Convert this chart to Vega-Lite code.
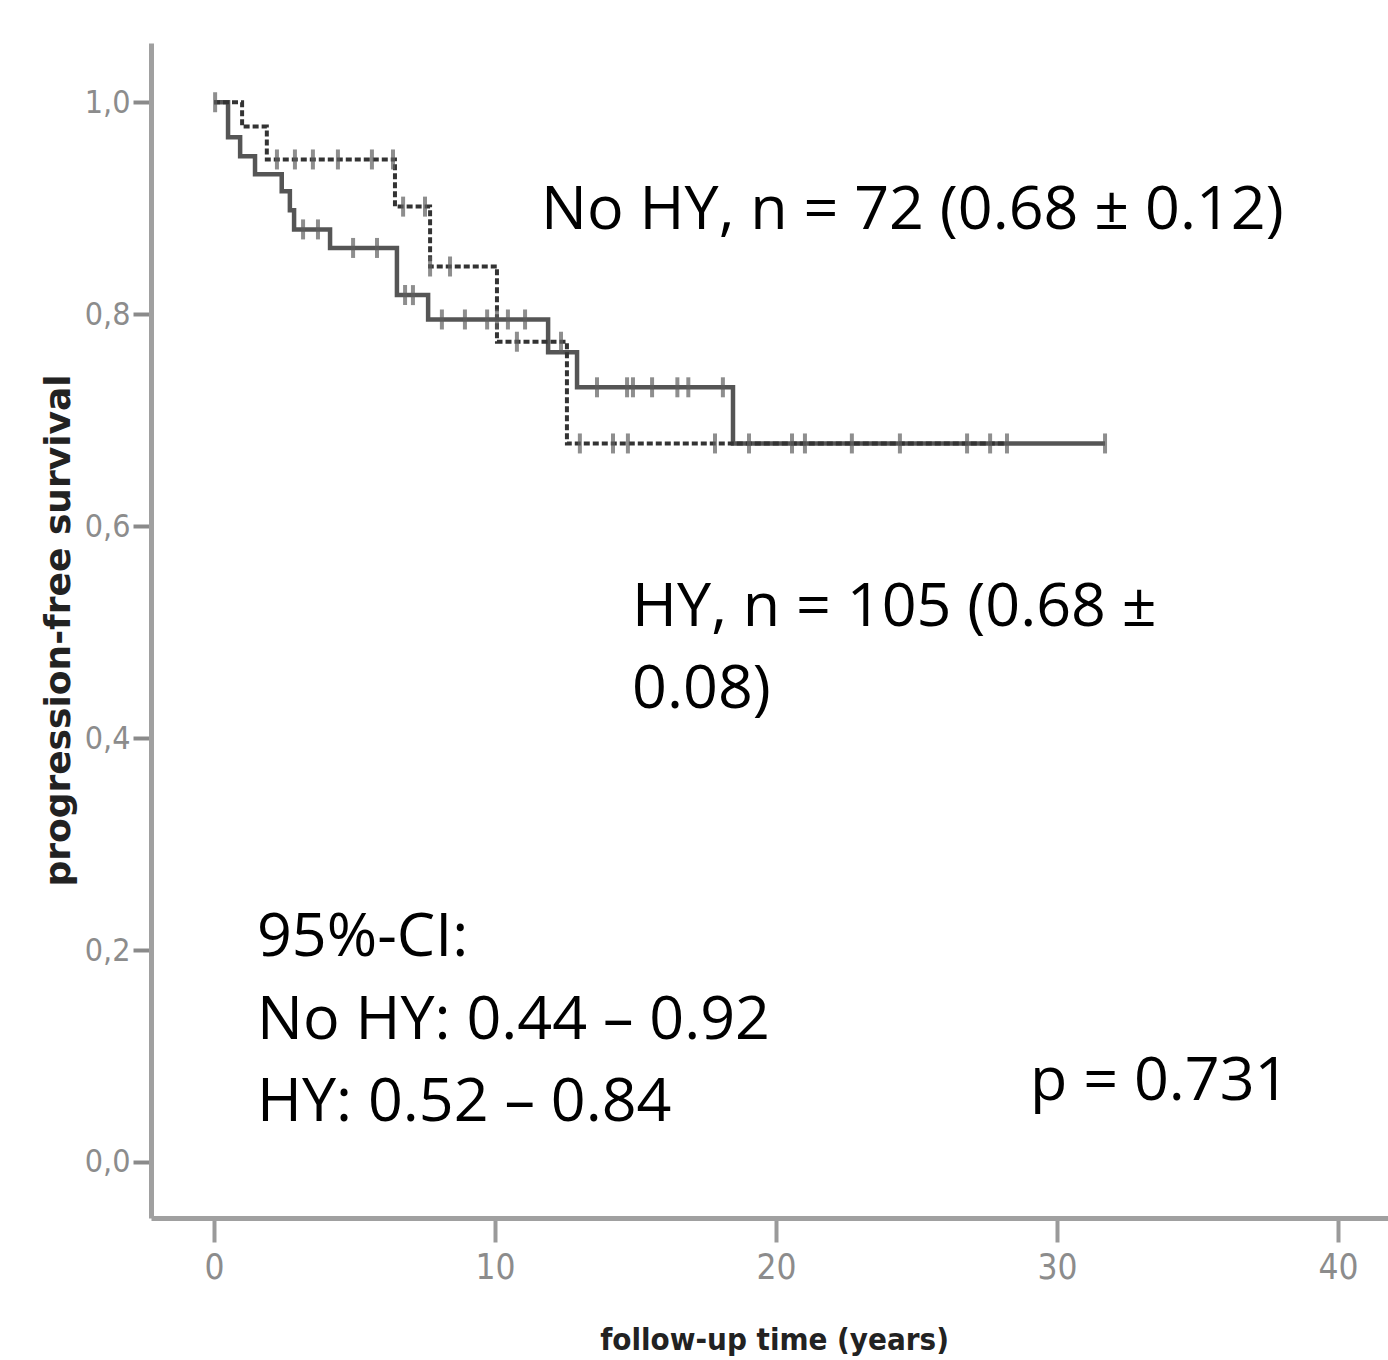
{
  "$schema": "https://vega.github.io/schema/vega-lite/v6.json",
  "width": 1237,
  "height": 1175,
  "autosize": "none",
  "padding": {"left": 151, "top": 43, "right": 0, "bottom": 142},
  "background": "white",
  "config": {"view": {"stroke": null}},
  "datasets": {
    "curves": [
      {"group": "HY", "t": 0, "s": 1.0},
      {"group": "HY", "t": 0.5, "s": 0.967},
      {"group": "HY", "t": 0.93, "s": 0.949},
      {"group": "HY", "t": 1.46, "s": 0.932},
      {"group": "HY", "t": 2.41, "s": 0.916},
      {"group": "HY", "t": 2.7, "s": 0.898},
      {"group": "HY", "t": 2.85, "s": 0.88},
      {"group": "HY", "t": 4.13, "s": 0.8625},
      {"group": "HY", "t": 6.51, "s": 0.818},
      {"group": "HY", "t": 7.62, "s": 0.795},
      {"group": "HY", "t": 11.89, "s": 0.764},
      {"group": "HY", "t": 12.92, "s": 0.731},
      {"group": "HY", "t": 18.47, "s": 0.678},
      {"group": "HY", "t": 31.71, "s": 0.678},
      {"group": "No HY", "t": 0, "s": 1.0},
      {"group": "No HY", "t": 1.0, "s": 0.977},
      {"group": "No HY", "t": 1.88, "s": 0.946},
      {"group": "No HY", "t": 6.44, "s": 0.9015},
      {"group": "No HY", "t": 7.69, "s": 0.845},
      {"group": "No HY", "t": 10.07, "s": 0.774},
      {"group": "No HY", "t": 12.56, "s": 0.678},
      {"group": "No HY", "t": 28.22, "s": 0.678}
    ],
    "censored": [
      {"group": "HY", "t": 0.04, "s": 1.0},
      {"group": "HY", "t": 3.17, "s": 0.88},
      {"group": "HY", "t": 3.7, "s": 0.88},
      {"group": "HY", "t": 4.95, "s": 0.8625},
      {"group": "HY", "t": 5.8, "s": 0.8625},
      {"group": "HY", "t": 6.8, "s": 0.818},
      {"group": "HY", "t": 7.08, "s": 0.818},
      {"group": "HY", "t": 8.11, "s": 0.795},
      {"group": "HY", "t": 8.93, "s": 0.795},
      {"group": "HY", "t": 9.72, "s": 0.795},
      {"group": "HY", "t": 10.07, "s": 0.795},
      {"group": "HY", "t": 10.46, "s": 0.795},
      {"group": "HY", "t": 11.07, "s": 0.795},
      {"group": "HY", "t": 13.63, "s": 0.731},
      {"group": "HY", "t": 14.7, "s": 0.731},
      {"group": "HY", "t": 14.91, "s": 0.731},
      {"group": "HY", "t": 15.59, "s": 0.731},
      {"group": "HY", "t": 16.49, "s": 0.731},
      {"group": "HY", "t": 16.88, "s": 0.731},
      {"group": "HY", "t": 18.11, "s": 0.731},
      {"group": "HY", "t": 20.57, "s": 0.678},
      {"group": "HY", "t": 21.03, "s": 0.678},
      {"group": "HY", "t": 24.41, "s": 0.678},
      {"group": "HY", "t": 27.62, "s": 0.678},
      {"group": "HY", "t": 31.71, "s": 0.678},
      {"group": "No HY", "t": 2.24, "s": 0.946},
      {"group": "No HY", "t": 2.88, "s": 0.946},
      {"group": "No HY", "t": 3.52, "s": 0.946},
      {"group": "No HY", "t": 4.41, "s": 0.946},
      {"group": "No HY", "t": 5.62, "s": 0.946},
      {"group": "No HY", "t": 6.37, "s": 0.946},
      {"group": "No HY", "t": 6.73, "s": 0.9015},
      {"group": "No HY", "t": 7.51, "s": 0.9015},
      {"group": "No HY", "t": 7.69, "s": 0.845},
      {"group": "No HY", "t": 8.4, "s": 0.845},
      {"group": "No HY", "t": 10.78, "s": 0.774},
      {"group": "No HY", "t": 12.35, "s": 0.774},
      {"group": "No HY", "t": 13.02, "s": 0.678},
      {"group": "No HY", "t": 14.2, "s": 0.678},
      {"group": "No HY", "t": 14.73, "s": 0.678},
      {"group": "No HY", "t": 17.83, "s": 0.678},
      {"group": "No HY", "t": 19.04, "s": 0.678},
      {"group": "No HY", "t": 22.7, "s": 0.678},
      {"group": "No HY", "t": 26.8, "s": 0.678},
      {"group": "No HY", "t": 28.22, "s": 0.678}
    ],
    "notes": [
      {"t": 11.64, "s": 0.88, "label": "No HY, n = 72 (0.68 ± 0.12)"},
      {"t": 14.88, "s": 0.506, "label": "HY, n = 105 (0.68 ±"},
      {"t": 14.88, "s": 0.428, "label": "0.08)"},
      {"t": 1.53, "s": 0.194, "label": "95%-CI:"},
      {"t": 1.53, "s": 0.116, "label": "No HY: 0.44 – 0.92"},
      {"t": 1.53, "s": 0.0384, "label": "HY: 0.52 – 0.84"},
      {"t": 29.04, "s": 0.058, "label": "p = 0.731"}
    ]
  },
  "encoding": {
    "x": {
      "field": "t",
      "type": "quantitative",
      "scale": {"domain": [-2.242, 41.78], "nice": false, "zero": false},
      "axis": {
        "values": [0, 10, 20, 30, 40],
        "grid": false,
        "domainColor": "#a0a0a0",
        "domainWidth": 5,
        "tickColor": "#9a9a9a",
        "tickWidth": 4,
        "tickSize": 24,
        "labelFont": "DejaVu Sans Condensed",
        "labelFontSize": 35,
        "labelColor": "#8c8c8c",
        "labelPadding": 8,
        "title": "follow-up time (years)",
        "titleFont": "DejaVu Sans Condensed",
        "titleFontWeight": "bold",
        "titleFontSize": 31,
        "titleColor": "#222222",
        "titleX": 623,
        "titleY": 131,
        "titleBaseline": "alphabetic",
        "titleAlign": "center",
        "titleAnchor": null
      }
    },
    "y": {
      "field": "s",
      "type": "quantitative",
      "scale": {"domain": [-0.0529, 1.0559], "nice": false, "zero": false},
      "axis": {
        "values": [0, 0.2, 0.4, 0.6, 0.8, 1.0],
        "labelExpr": "replace(format(datum.value, '.1f'), '.', ',')",
        "grid": false,
        "domainColor": "#a0a0a0",
        "domainWidth": 5,
        "tickColor": "#8a8a8a",
        "tickWidth": 4,
        "tickSize": 18,
        "labelFont": "DejaVu Sans Condensed",
        "labelFontSize": 32,
        "labelColor": "#8c8c8c",
        "labelPadding": 3,
        "title": "progression-free survival",
        "titleFont": "DejaVu Sans",
        "titleFontWeight": "bold",
        "titleFontSize": 36,
        "titleColor": "#222222",
        "titleX": -93,
        "titleY": 587,
        "titleBaseline": "middle",
        "titleAlign": "center",
        "titleAngle": 270
      }
    }
  },
  "layer": [
    {
      "data": {"values": [{}]},
      "mark": {"type": "rule", "color": "#a0a0a0", "strokeWidth": 5},
      "encoding": {
        "x": {"datum": -2.242, "type": "quantitative"},
        "x2": {"datum": 41.78},
        "y": {"datum": 1.0559, "type": "quantitative"}
      }
    },
    {
      "data": {"name": "curves"},
      "mark": {"type": "line", "interpolate": "step-after"},
      "encoding": {
        "color": {"field": "group", "type": "nominal", "scale": {"domain": ["HY", "No HY"], "range": ["#555555", "#333333"]}, "legend": null},
        "strokeDash": {"field": "group", "type": "nominal", "scale": {"domain": ["HY", "No HY"], "range": [[1, 0], [6, 3]]}, "legend": null},
        "strokeWidth": {"field": "group", "type": "nominal", "scale": {"domain": ["HY", "No HY"], "range": [4.5, 4]}, "legend": null}
      }
    },
    {
      "data": {"name": "censored"},
      "mark": {"type": "tick", "orient": "vertical", "size": 20, "thickness": 4, "color": "#5e5e5e"}
    },
    {
      "data": {"name": "notes"},
      "mark": {"type": "text", "align": "left", "baseline": "alphabetic", "font": "Open Sans", "fontSize": 61, "color": "#000000"},
      "encoding": {"text": {"field": "label", "type": "nominal"}}
    }
  ]
}
